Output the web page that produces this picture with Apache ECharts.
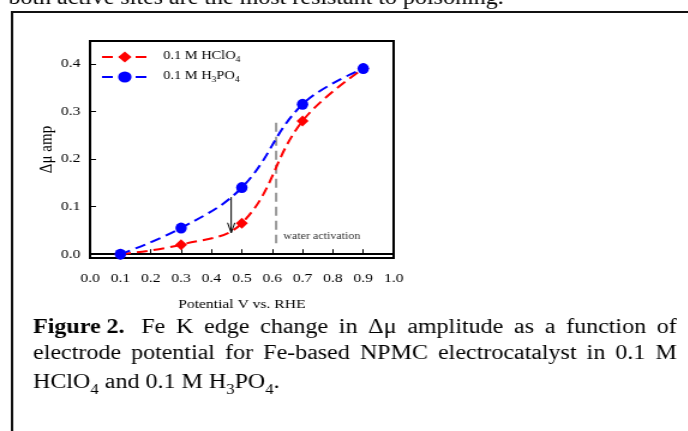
<!DOCTYPE html>
<html>
<head>
<meta charset="utf-8">
<script src="https://cdn.jsdelivr.net/npm/echarts@6/dist/echarts.min.js"></script>
<style>
  html, body { margin: 0; padding: 0; background: #fff; overflow: hidden; }
  /* the scanned figure is stretched sideways, so the page is too */
  #main { width: 574px; height: 431px; transform: scaleX(1.2); transform-origin: 0 0; }
</style>
</head>
<body>
<div id="main"></div>
<script>
// potential (V vs. RHE) where the points were measured
var potentials = [0.1, 0.3, 0.5, 0.7, 0.9];
// delta mu amplitude
var hclo4Values = [0.0, 0.02, 0.065, 0.28, 0.39];
var h3po4Values = [0.0, 0.055, 0.14, 0.315, 0.39];
var yTicks = [0.0, 0.1, 0.2, 0.3, 0.4];
// annotations
var waterX = 0.613, waterTop = 0.276, waterBottom = 0.023;
var arrowX = 0.465, arrowFrom = 0.12, arrowTo = 0.045;

var serif = 'Liberation Serif, Times New Roman, serif';

function pairs(xs, ys) {
	var out = [];
	for (var i = 0; i < xs.length; i++) out.push([xs[i], ys[i]]);
	return out;
}

var chart = echarts.init(document.getElementById('main'));

var option = {
	backgroundColor: '#fff',
	animation: false,
	grid: {
		left: 75, top: 41, width: 253, height: 217,
		show: true, borderColor: '#000', borderWidth: 2, backgroundColor: 'transparent'
	},
	legend: {
		left: 79, top: 45, orient: 'vertical',
		itemWidth: 38, itemHeight: 14, itemGap: 6,
		textStyle: {
			fontFamily: serif, fontSize: 12, color: '#000',
			rich: {
				f: { fontFamily: serif, fontSize: 12, color: '#000', lineHeight: 14, verticalAlign: 'top', padding: [0, 0, 0, 8] },
				n: { fontFamily: serif, fontSize: 12, color: '#000', lineHeight: 14, verticalAlign: 'top' },
				s: { fontFamily: serif, fontSize: 8, color: '#000', lineHeight: 14, verticalAlign: 'bottom' }
			}
		},
		formatter: function (name) {
			return name == 'HClO4' ? '{f|0.1 M HClO}{s|4}' : '{f|0.1 M H}{s|3}{n|PO}{s|4}';
		},
		data: ['HClO4', 'H3PO4']
	},
	xAxis: {
		type: 'value', min: 0, max: 1, interval: 0.1,
		name: 'Potential V vs. RHE', nameLocation: 'middle', nameGap: 40,
		nameTextStyle: { fontFamily: serif, fontSize: 13, color: '#000' },
		axisLine: { show: true, lineStyle: { color: '#000', width: 2 } },
		axisTick: { show: true, inside: true, length: 5, lineStyle: { color: '#000', width: 1 } },
		axisLabel: {
			fontFamily: serif, fontSize: 13, color: '#000', margin: 14,
			formatter: function (v) { return v.toFixed(1); }
		},
		splitLine: { show: false }
	},
	yAxis: {
		type: 'value', min: -0.008, max: 0.448,
		name: 'Δμ amp', nameLocation: 'middle', nameGap: 23, nameRotate: 90,
		nameTextStyle: { fontFamily: serif, fontSize: 15, color: '#000' },
		axisLine: { show: true, lineStyle: { color: '#000', width: 2 } },
		axisTick: { show: true, inside: true, length: 5, customValues: yTicks, lineStyle: { color: '#000', width: 1 } },
		axisLabel: {
			fontFamily: serif, fontSize: 13, color: '#000', margin: 8, customValues: yTicks,
			formatter: function (v) { return v.toFixed(1); }
		},
		splitLine: { show: false }
	},
	series: [
		{
			name: 'HClO4', type: 'line', smooth: 0.4,
			data: pairs(potentials, hclo4Values),
			symbol: 'diamond', symbolSize: [10, 11],
			itemStyle: { color: '#ff0000' },
			lineStyle: { color: '#ff0000', width: 2, type: [9, 5] },
			z: 2
		},
		{
			name: 'H3PO4', type: 'line', smooth: 0.4,
			data: pairs(potentials, h3po4Values),
			symbol: 'circle', symbolSize: [9.5, 11],
			itemStyle: { color: '#0000ff' },
			lineStyle: { color: '#0000ff', width: 2, type: [9, 5] },
			z: 3
		}
	]
};
chart.setOption(option);

// annotations placed through the chart's own scales
var wTop = chart.convertToPixel({ gridIndex: 0 }, [waterX, waterTop]);
var wBot = chart.convertToPixel({ gridIndex: 0 }, [waterX, waterBottom]);
var aTop = chart.convertToPixel({ gridIndex: 0 }, [arrowX, arrowFrom]);
var aBot = chart.convertToPixel({ gridIndex: 0 }, [arrowX, arrowTo]);

// justified caption lines, measured with a canvas
var ctx = document.createElement('canvas').getContext('2d');
function wordWidth(w, bold) {
	ctx.font = (bold ? 'bold ' : '') + '20px ' + serif;
	return ctx.measureText(w).width;
}
function justify(words, x0, x1, y, boldFirst) {
	var widths = words.map(function (w, i) { return wordWidth(w, boldFirst && i == 0); });
	var total = widths.reduce(function (a, b) { return a + b; }, 0);
	var gap = (x1 - x0 - total) / (words.length - 1);
	var x = x0, els = [];
	words.forEach(function (w, i) {
		els.push({
			type: 'text', x: x, y: y,
			style: {
				text: w, fontFamily: serif, fontSize: 20, fill: '#000',
				fontWeight: (boldFirst && i == 0) ? 'bold' : 'normal',
				verticalAlign: 'bottom'
			}
		});
		x += widths[i] + gap;
	});
	return els;
}

var capLine1 = ['Figure 2. ', 'Fe', 'K', 'edge', 'change', 'in', 'Δμ', 'amplitude', 'as', 'a', 'function', 'of'];
var capLine2 = ['electrode', 'potential', 'for', 'Fe-based', 'NPMC', 'electrocatalyst', 'in', '0.1', 'M'];

var graphics = [
	{
		type: 'polyline', silent: true,
		shape: { points: [[10, 440], [10, 12], [600, 12]] },
		style: { stroke: '#111', lineWidth: 2, fill: null }
	},
	{
		type: 'text', x: 7, y: 9,
		style: { text: 'both active sites are the most resistant to poisoning.', fontFamily: serif, fontSize: 20, fill: '#000', verticalAlign: 'bottom' }
	},
	{
		type: 'line', shape: { x1: wTop[0], y1: wTop[1], x2: wBot[0], y2: wBot[1] },
		style: { stroke: '#999', lineWidth: 2, lineDash: [9, 5] }
	},
	{
		type: 'text', x: wBot[0] + 6, y: wBot[1] - 7,
		style: { text: 'water activation', fontFamily: serif, fontSize: 10, fill: '#333', verticalAlign: 'middle' }
	},
	{
		type: 'line', shape: { x1: aTop[0], y1: aTop[1], x2: aBot[0], y2: aBot[1] },
		style: { stroke: '#000', lineWidth: 1 }
	},
	{
		type: 'polyline', shape: { points: [[aBot[0] - 3, aBot[1] - 10], [aBot[0], aBot[1]], [aBot[0] + 3, aBot[1] - 10]] },
		style: { stroke: '#000', lineWidth: 1, fill: null }
	},
	{
		type: 'text', x: 27.5, y: 397,
		style: {
			text: '{n|HClO}{s|4}{n| and 0.1 M H}{s|3}{n|PO}{s|4}{n|.}',
			rich: {
				n: { fontFamily: serif, fontSize: 20, fill: '#000', lineHeight: 24, verticalAlign: 'top' },
				s: { fontFamily: serif, fontSize: 14, fill: '#000', lineHeight: 24, verticalAlign: 'bottom' }
			},
			verticalAlign: 'bottom'
		}
	}
];
graphics = graphics.concat(justify(capLine1, 27.5, 564, 338, true));
graphics = graphics.concat(justify(capLine2, 27.5, 564, 364, false));

chart.setOption({ graphic: graphics });
</script>
</body>
</html>
